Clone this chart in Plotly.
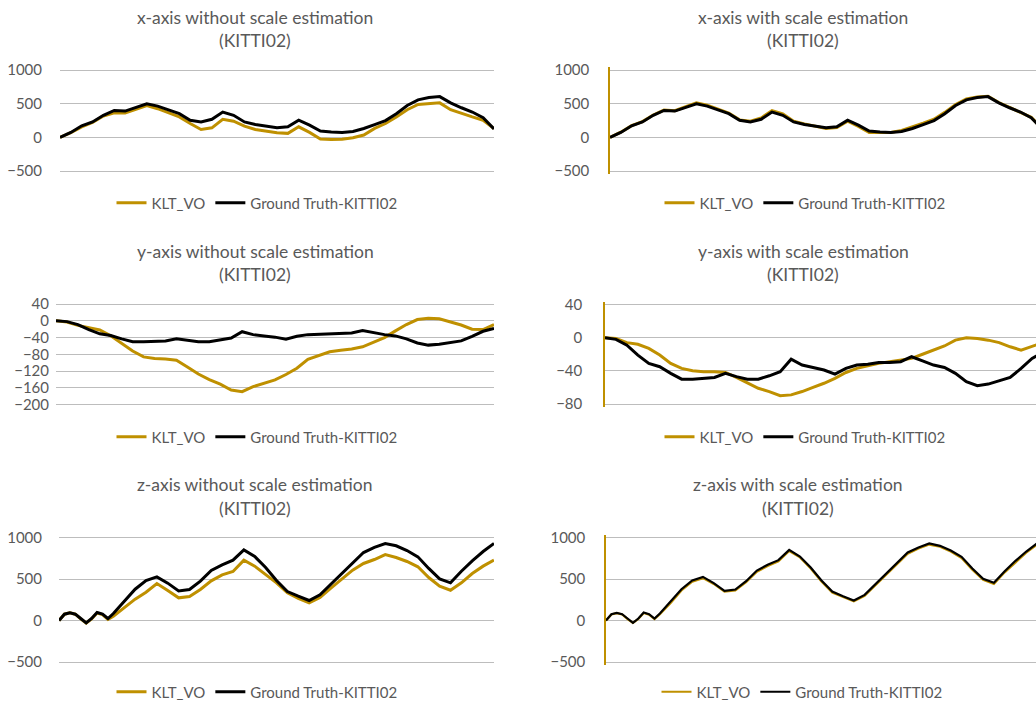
import plotly.graph_objects as go

# Figure size in pixels
W, H = 1036, 704

GOLD = "#BF9000"
BLACK = "#000000"
TEXT = "#595959"
GRID = "#BDBDBD"
FONT = "Lato"

# Frame index along the KITTI 02 sequence
frames = list(range(0, 4641, 116))
frames_z = [0, 58, 116, 174, 232, 290, 348, 406, 464, 522] + list(range(580, 4641, 116))

# x-axis translation
gt_x = [0, 73, 171, 229, 327, 400, 390, 444, 498, 464, 410, 351, 254, 229, 268, 376,
        327, 229, 190, 166, 141, 156, 254, 181, 93, 78, 73, 88, 132, 190, 249, 351,
        473, 556, 590, 605, 512, 439, 376, 293, 125]
klt_x_raw = [0, 68, 156, 220, 317, 366, 361, 415, 473, 425, 361, 303, 205, 117, 141, 268,
             239, 166, 117, 93, 68, 59, 156, 73, -24, -34, -29, -5, 34, 132, 205, 303,
             410, 488, 503, 512, 410, 351, 303, 254, 130]
klt_x_scaled = [0, 76, 174, 234, 332, 405, 395, 459, 513, 479, 420, 361, 259, 239, 288, 396,
                347, 239, 200, 171, 131, 146, 239, 161, 73, 73, 73, 103, 152, 210, 269, 371,
                488, 571, 600, 610, 517, 444, 381, 298, 130]

# y-axis translation
gt_y = [0, -2, -9, -21, -31, -35, -43, -50, -50, -49, -48, -43, -47, -50, -50, -46,
        -41, -26, -33, -36, -39, -44, -37, -33, -32, -30, -30, -29, -23, -28, -33, -36,
        -43, -53, -58, -56, -52, -48, -37, -25, -18]
klt_y_raw = [0, -3, -11, -16, -22, -36, -55, -72, -86, -90, -91, -94, -110, -127, -140, -151,
             -165, -169, -157, -149, -141, -128, -113, -92, -83, -74, -70, -67, -62, -51, -40, -24,
             -9, 3, 6, 5, -2, -10, -20, -21, -9]
klt_y_scaled = [0, -1, -6, -8, -13, -21, -31, -37, -40, -41, -41, -42, -48, -55, -61, -65,
                -70, -69, -65, -60, -55, -49, -42, -37, -34, -31, -29, -27, -25, -20, -15, -10,
                -3, 0, -1, -3, -6, -11, -15, -10, -6]

# z-axis translation
gt_z = [0, 76, 92, 76, 24, -28, 24, 96, 76, 24, 84,
        225, 377, 482, 526, 450, 357, 373, 474, 602, 671, 727, 851, 771, 639, 482, 349,
        293, 241, 309, 438, 570, 699, 819, 880, 928, 900, 843, 767, 627, 502, 454, 594,
        719, 831, 928]
klt_z_raw = [0, 76, 92, 76, 20, -30, 20, 90, 70, 12, 52,
             157, 257, 341, 446, 361, 273, 289, 373, 478, 550, 590, 727, 655, 554, 454, 333,
             265, 213, 277, 390, 498, 606, 687, 735, 795, 759, 711, 647, 518, 414, 365, 454,
             566, 655, 727]
klt_z_scaled = [0, 72, 88, 72, 18, -30, 18, 90, 70, 18, 76,
                212, 362, 467, 511, 440, 347, 363, 462, 588, 656, 712, 838, 760, 627, 470, 337,
                283, 232, 297, 425, 555, 684, 805, 868, 915, 890, 830, 753, 612, 490, 440, 580,
                705, 818, 915]

titles = [
    ("x-axis without scale estimation", "(KITTI02)"),
    ("x-axis with scale estimation", "(KITTI02)"),
    ("y-axis without scale estimation", "(KITTI02)"),
    ("y-axis with scale estimation", "(KITTI02)"),
    ("z-axis without scale estimation", "(KITTI02)"),
    ("z-axis with scale estimation", "(KITTI02)"),
]

# Panel layout: (frames, klt, gt, left px, right px, top px, bottom px,
#                y min, y max, tick step, gold axis line, line width, standoff)
panels = [
    (frames, klt_x_raw, gt_x, 60, 494, 70, 171, -500, 1000, 500, False, 3.0, 17),
    (frames, klt_x_scaled, gt_x, 610, 1042, 70, 171, -500, 1000, 500, True, 3.0, 16),
    (frames, klt_y_raw, gt_y, 56, 494, 304, 404.7, -200, 40, 40, False, 3.0, 6),
    (frames, klt_y_scaled, gt_y, 605, 1043, 304.5, 404, -80, 40, 40, True, 3.0, 18),
    (frames_z, klt_z_raw, gt_z, 59, 494, 537.5, 662, -500, 1000, 500, False, 3.0, 16),
    (frames_z, klt_z_scaled, gt_z, 606, 1037, 537.5, 662, -500, 1000, 500, True, 2.2, 16),
]

# Title line centres (x px, first line y px, second line y px)
title_pos = [(255, 17, 41), (803, 17, 41), (255, 252, 274), (803, 252, 274),
             (255, 484, 508), (798, 484, 508)]
# Legend centres (x px, y px)
legend_pos = [(257, 203), (805, 203), (257, 437), (805, 437), (257, 692), (802, 692)]

fig = go.Figure()
layout = dict(
    width=W, height=H,
    margin=dict(l=0, r=0, t=0, b=0, autoexpand=False),
    paper_bgcolor="white", plot_bgcolor="white",
    font=dict(family=FONT, color=TEXT, size=15),
    showlegend=True,
    annotations=[],
)

pad = 3
for i, (fr, klt, gt, lp, rp, tp, bp, lo, hi, step, gold_axis, lw, standoff) in enumerate(panels):
    n = i + 1
    xa = "x" if n == 1 else f"x{n}"
    ya = "y" if n == 1 else f"y{n}"
    lg = "legend" if n == 1 else f"legend{n}"

    fig.add_trace(go.Scatter(x=fr, y=klt, mode="lines", name="KLT_VO",
                             line=dict(color=GOLD, width=lw), xaxis=xa, yaxis=ya, legend=lg))
    fig.add_trace(go.Scatter(x=fr, y=gt, mode="lines", name="Ground Truth-KITTI02",
                             line=dict(color=BLACK, width=lw), xaxis=xa, yaxis=ya, legend=lg))

    # horizontal placement; right-column plots run past the page edge
    vis_r = min(rp, W)
    xmax = fr[-1] * (vis_r - lp) / (rp - lp)
    layout[f"xaxis{'' if n == 1 else n}"] = dict(
        domain=[lp / W, vis_r / W], range=[0, xmax], anchor=ya,
        showgrid=False, zeroline=False, showline=False, showticklabels=False, ticks="",
    )

    upp = (hi - lo) / (bp - tp)
    layout[f"yaxis{'' if n == 1 else n}"] = dict(
        domain=[1 - (bp + pad) / H, 1 - (tp - pad) / H],
        range=[lo - pad * upp, hi + pad * upp], anchor=xa,
        tickmode="linear", tick0=lo, dtick=step,
        showgrid=True, gridcolor=GRID, gridwidth=1.3, zeroline=False,
        showline=gold_axis, linecolor=GOLD, linewidth=1.5,
        ticks="", ticklabelstandoff=standoff,
        tickfont=dict(family=FONT, size=15, color=TEXT),
    )

    lx, ly = legend_pos[i]
    layout[lg] = dict(
        orientation="h", x=lx / W, y=1 - ly / H, xanchor="center", yanchor="middle",
        bgcolor="rgba(0,0,0,0)", font=dict(family=FONT, size=15, color=TEXT),
        itemwidth=30, itemclick=False,
    )

    cx, y1, y2 = title_pos[i]
    for txt, yy in zip(titles[i], (y1, y2)):
        layout["annotations"].append(dict(
            text=txt, x=cx / W, y=1 - yy / H, xref="paper", yref="paper",
            xanchor="center", yanchor="middle", showarrow=False,
            font=dict(family=FONT, size=17.5, color=TEXT),
        ))

fig.update_layout(**layout)
fig.write_html("out.html")
